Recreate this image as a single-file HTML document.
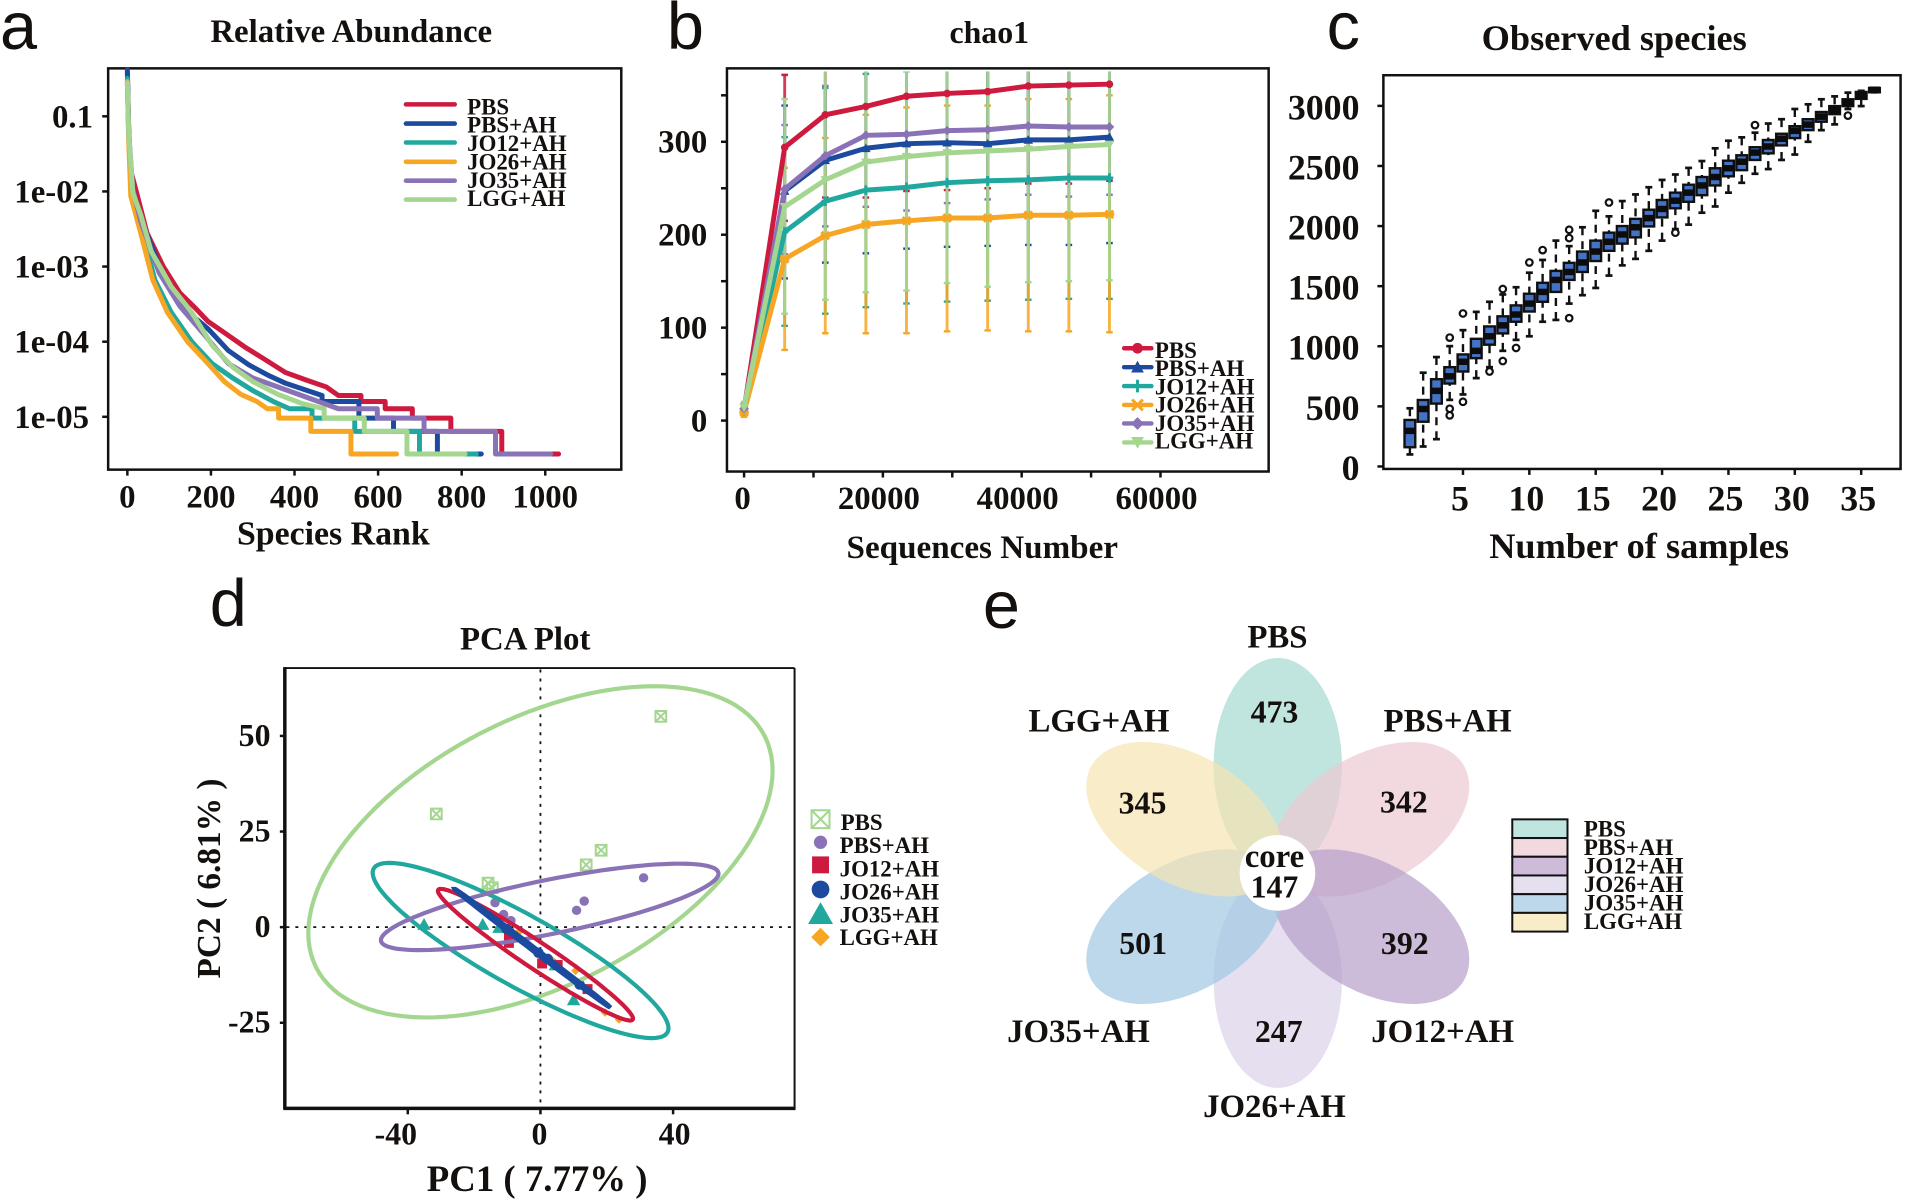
<!DOCTYPE html>
<html lang="en">
<head>
<meta charset="utf-8">
<title>Microbiome diversity figure</title>
<style>
html,body{margin:0;padding:0;background:#fff;}
svg{display:block;}
text{font-family:"Liberation Serif",serif;font-weight:700;fill:#14100e;}
.letter{font-family:"Liberation Sans",sans-serif;font-weight:400;font-size:67px;}
</style>
</head>
<body>
<svg id="figure" xmlns="http://www.w3.org/2000/svg" width="1905" height="1202" viewBox="0 0 1905 1202">
<defs>
<clipPath id="clip-b"><rect x="728" y="72" width="543" height="401"/></clipPath>
</defs>
<rect width="1905" height="1202" fill="#fff"/>

<g id="panel-a" transform="scale(0.995)">
<text class="letter" x="0" y="49">a</text>
<text x="353" y="42" font-size="33" text-anchor="middle">Relative Abundance</text>
<text x="335" y="547" font-size="34" text-anchor="middle">Species Rank</text>
<rect x="108.7" y="68.7" width="515.7" height="403.3" fill="none" stroke="#111" stroke-width="2.5"/>
</g>

<g id="panel-b" transform="translate(3.2 0) scale(0.995)">
<text class="letter" x="667" y="49">b</text>
<text x="991" y="43" font-size="32" text-anchor="middle">chao1</text>
<text x="984" y="561" font-size="33.3" text-anchor="middle">Sequences Number</text>
<rect x="727.4" y="68.7" width="544.4" height="405.2" fill="none" stroke="#111" stroke-width="2.5"/>
</g>

<g id="panel-c" transform="translate(6.3 0) scale(0.995)">
<text class="letter" x="1327" y="49">c</text>
<text x="1616" y="50" font-size="36.5" text-anchor="middle">Observed species</text>
<text x="1641" y="561" font-size="36.5" text-anchor="middle">Number of samples</text>
<rect x="1384" y="75.6" width="519.8" height="395.7" fill="none" stroke="#111" stroke-width="2.5"/>
</g>

<g id="panel-d" transform="translate(0.85 2.9) scale(0.995)">
<text class="letter" x="210" y="626">d</text>
<text x="527" y="650" font-size="33" text-anchor="middle">PCA Plot</text>
<text x="539" y="1194" font-size="37" text-anchor="middle">PC1 ( 7.77% )</text>
<text transform="translate(220 880) rotate(-90)" font-size="33.5" text-anchor="middle">PC2 ( 6.81% )</text>
<line x1="285.4" y1="668.5" x2="797.7" y2="668.5" stroke="#111" stroke-width="2"/>
<line x1="797.7" y1="668.5" x2="797.7" y2="1111" stroke="#111" stroke-width="2"/>
<line x1="285.4" y1="667.5" x2="285.4" y2="1112" stroke="#111" stroke-width="3.5"/>
<line x1="284" y1="1111" x2="798.7" y2="1111" stroke="#111" stroke-width="3.5"/>
</g>

<g id="panel-e" transform="translate(4.85 2.95) scale(0.995)">
<text class="letter" x="983" y="628">e</text>
</g>
</svg>

<script>
/* ---------- panel a: rank abundance ---------- */
const aSeriesNames = ['PBS','PBS+AH','JO12+AH','JO26+AH','JO35+AH','LGG+AH'];
const aTickRanks = [0,200,400,600,800,1000];
const aTickAbund = [0.1,1e-2,1e-3,1e-4,1e-5];
const aTickAbundLabels = ['0.1','1e-02','1e-03','1e-04','1e-05'];
const aRankPBS = [0,3,8,22,47,86,125,164,193,232,281,330,378,427,476,505,559,559,617,617,682,682,774,774,896,896,1032];
const aAbundPBS = [0.38,0.072,0.019,0.0097,0.0028,1e-3,4.5e-4,2.75e-4,1.86e-4,1.32e-4,8.5e-5,5.75e-5,3.9e-5,3.1e-5,2.5e-5,1.92e-5,1.92e-5,1.6e-5,1.6e-5,1.28e-5,1.28e-5,9.6e-6,9.6e-6,6.4e-6,6.4e-6,3.2e-6,3.2e-6];
const aRankPBSAH = [0,3,8,32,86,135,193,242,291,340,378,466,466,554,554,637,637,742,742,847];
const aAbundPBSAH = [0.42,0.07,0.0135,0.0044,7.4e-4,2.75e-4,1.48e-4,7.6e-5,4.9e-5,3.5e-5,2.8e-5,1.92e-5,1.6e-5,1.6e-5,9.6e-6,9.6e-6,6.4e-6,6.4e-6,3.2e-6,3.2e-6];
const aRankJO12 = [0,3,8,32,66,105,154,203,252,300,349,388,442,442,544,544,699,699,835];
const aAbundJO12 = [0.32,0.06,0.012,0.0035,6.6e-4,2.45e-4,1e-4,5.1e-5,3.3e-5,2.24e-5,1.6e-5,1.28e-5,1.28e-5,9.6e-6,9.6e-6,6.4e-6,6.4e-6,3.2e-6,3.2e-6];
const aRankJO26 = [0,3,8,32,61,96,144,193,232,271,310,335,362,362,439,439,535,535,644];
const aAbundJO26 = [0.29,0.05,0.0087,0.0028,6.6e-4,2.45e-4,1e-4,5.1e-5,2.95e-5,2e-5,1.6e-5,1.28e-5,1.28e-5,9.6e-6,9.6e-6,6.4e-6,6.4e-6,3.2e-6,3.2e-6];
const aRankJO35 = [0,3,13,32,76,125,183,242,300,378,457,505,598,598,710,710,881,881,1013];
const aAbundJO35 = [0.28,0.06,0.0107,0.004,8.3e-4,3e-4,1.26e-4,5.1e-5,3.3e-5,2.3e-5,1.6e-5,1.28e-5,1.28e-5,9.6e-6,9.6e-6,6.4e-6,6.4e-6,3.2e-6,3.2e-6];
const aRankLGG = [0,3,13,32,57,105,154,203,252,300,359,418,471,471,567,567,669,669,808];
const aAbundLGG = [0.28,0.06,0.0096,0.0049,0.0016,5.4e-4,2.45e-4,8.9e-5,4.6e-5,2.95e-5,2e-5,1.5e-5,1.28e-5,9.6e-6,9.6e-6,6.4e-6,6.4e-6,3.2e-6,3.2e-6];

/* ---------- panel b: chao1 rarefaction ---------- */
const bSeq = [0,5850,11700,17550,23400,29250,35100,40950,46800,52650];
const bTickX = [0,20000,40000,60000];
const bMinorX = [10000,30000,50000];
const bTickY = [0,100,200,300];
const bMinorY = [50,150,250,350];
const bMeanPBS = [12,294,329,338,349,352,354,360,361,362];
const bMeanPBSAH = [12,247,280,293,298,299,298,302,302,305];
const bMeanJO12 = [11,203,236,248,251,256,258,259,261,261];
const bMeanJO26 = [9,174,199,211,215,218,218,221,221,222];
const bMeanJO35 = [13,249,285,307,308,312,313,317,316,316];
const bMeanLGG = [14,230,259,278,284,288,290,292,295,297];
const bLowPBS = [6,215,240,240,247,248,250,255,255,258];
const bHighPBS = [18,372,425,435,450,455,455,465,465,465];
const bLowPBSAH = [6,153,170,180,185,187,188,189,189,191];
const bHighPBSAH = [18,339,360,395,405,410,410,415,415,420];
const bLowJO12 = [5,102,115,122,126,128,129,130,131,131];
const bHighJO12 = [17,305,358,373,376,385,388,390,392,392];
const bLowJO26 = [4,76,94,94,94,96,97,96,96,95];
const bHighJO26 = [14,272,304,329,337,339,339,346,346,350];
const bLowJO35 = [7,179,209,230,226,234,238,243,241,243];
const bHighJO35 = [19,318,360,385,390,390,390,392,392,392];
const bLowLGG = [8,115,130,138,140,148,144,149,150,151];
const bHighLGG = [20,346,388,418,428,428,436,436,440,443];

/* ---------- panel c: observed species box plots ---------- */
const cSamples = [1,2,3,4,5,6,7,8,9,10,11,12,13,14,15,16,17,18,19,20,21,22,23,24,25,26,27,28,29,30,31,32,33,34,35,36];
const cQ1 = [160,372,523,690,790,901,1013,1107,1204,1289,1370,1452,1552,1618,1709,1794,1854,1906,1997,2072,2148,2202,2257,2338,2414,2465,2550,2605,2671,2732,2798,2868,2931,2998,3058,3113];
const cMedian = [296,478,629,750,871,962,1083,1174,1264,1355,1452,1552,1618,1697,1788,1869,1930,1990,2066,2142,2211,2278,2338,2408,2481,2535,2611,2662,2726,2792,2844,2910,2967,3025,3086,3134];
const cQ3 = [387,553,726,826,932,1062,1165,1249,1340,1437,1528,1627,1694,1788,1879,1945,2000,2060,2136,2217,2278,2344,2408,2481,2544,2589,2656,2716,2768,2831,2889,2949,2998,3055,3116,3149];
const cLow = [100,166,227,554,599,735,826,962,1053,1083,1204,1219,1355,1425,1485,1588,1673,1727,1794,1879,1975,2012,2111,2163,2278,2360,2435,2474,2550,2595,2701,2798,2846,2974,2998,3113];
const cHigh = [484,780,910,1001,1134,1286,1370,1431,1491,1612,1718,1879,1833,1990,2127,2081,2208,2263,2323,2384,2429,2484,2541,2647,2710,2738,2777,2853,2889,2974,3013,3055,3079,3110,3125,3149];
const cOutlierSample = [4,4,4,5,5,7,8,8,9,10,11,13,13,13,16,21,27,34];
const cOutlierValue = [1072,480,425,1273,538,790,1476,877,986,1697,1800,1900,1969,1234,2196,1945,2840,2919];
const cTickX = [5,10,15,20,25,30,35];
const cTickY = [0,500,1000,1500,2000,2500,3000];

/* ---------- panel d: PCA ---------- */
const dGroupNames = ['PBS','PBS+AH','JO12+AH','JO26+AH','JO35+AH','LGG+AH'];
const dTickX = [-40,0,40];
const dTickY = [-25,0,25,50];
const dPC1PBS = [36.3,-31.4,18.3,13.8,-15.8,-14.5];
const dPC2PBS = [55.1,29.6,20.1,16.3,11.5,10.3];
const dPC1PBSAH = [31.1,13.2,10.9,-13.7,-11.1,-8.9];
const dPC2PBSAH = [12.9,6.8,4.4,6.4,3.3,1.7];
const dPC1JO12 = [-9.5,-9.5,0.5,5.2,14.2];
const dPC2JO12 = [-1.6,-4.1,-9.5,-9.9,-16.2];
const dPC1JO26 = [-10.2,-0.6,2.2,11.8];
const dPC2JO26 = [-0.5,-6.7,-8.3,-15];
const dPC1JO35 = [-35.1,-17.4,-12.5,4.5,10];
const dPC2JO35 = [0.7,0.7,-0.1,-9.9,-19];
const dPC1LGG = [-6.6,3.7,10.6,19.5,23.7];
const dPC2LGG = [-1.3,-8.8,-11.4,-22.3,-24.1];
/* confidence ellipses: centre, half-extent on each axis, correlation */
const dEllipseNames = ['pbs','jo35','pbs-ah','jo12','jo26'];
const dEllipseCx = [0,-6,2.8,-1.5,-2.6];
const dEllipseCy = [19.7,-6.1,5.3,-7.2,-5.4];
const dEllipseRx = [70,44.6,50.9,29.4,23.2];
const dEllipseRy = [43.3,22.9,11.3,17.2,15.3];
const dEllipseCorr = [0.49,-0.887,0.77,-0.97,-0.9995];

/* ---------- panel e: flower plot ---------- */
const eGroupNames = ['PBS','PBS+AH','JO12+AH','JO26+AH','JO35+AH','LGG+AH'];
const eUniqueCounts = [473,342,392,247,501,345];
const eCoreCount = 147;

const NS = 'http://www.w3.org/2000/svg';
const cRed='#cd1a3e', cBlue='#1c4a9f', cTeal='#21a89e', cOrange='#f6a623', cPurple='#8a72b6', cGreen='#a4d690';

function make(parent, tag, attrs, txt){
  const el = document.createElementNS(NS, tag);
  for (const k in attrs) el.setAttribute(k, attrs[k]);
  if (txt !== undefined) el.textContent = txt;
  parent.appendChild(el);
  return el;
}
function slug(s){ return String(s).toLowerCase().replace(/\+/g,'-').replace(/[^a-z0-9-]/g,''); }

/* axis tick + label helpers */
function xAxis(group, values, labels, xf, yBase, tickLen, labelY, size, prefix, dx){
  values.forEach(function(v,i){
    const t = make(group,'line',{x1:xf(v),x2:xf(v),y1:yBase,y2:yBase+tickLen,stroke:'#111','stroke-width':2.5});
    
    
    const l = make(group,'text',{x:xf(v)+dx(v),y:labelY,'font-size':size,'text-anchor':'middle'},labels[i]);
    
    
  });
}
function yAxis(group, values, labels, yf, xBase, tickLen, labelX, size, prefix, dy, dxf){
  values.forEach(function(v,i){
    const t = make(group,'line',{x1:xBase-tickLen,x2:xBase,y1:yf(v),y2:yf(v),stroke:'#111','stroke-width':2.5});
    
    
    const l = make(group,'text',{x:labelX+dxf(v),y:yf(v)+dy,'font-size':size,'text-anchor':'end'},labels[i]);
    
    
  });
}
function minorTicksX(group, values, xf, yBase, len, prefix){
  values.forEach(function(v){
    const t = make(group,'line',{x1:xf(v),x2:xf(v),y1:yBase,y2:yBase+len,stroke:'#111','stroke-width':2.5});
    
    
  });
}
function minorTicksY(group, values, yf, xBase, len, prefix){
  values.forEach(function(v){
    const t = make(group,'line',{x1:xBase-len,x2:xBase,y1:yf(v),y2:yf(v),stroke:'#111','stroke-width':2.5});
    
    
  });
}

/* ====== PANEL A ====== */
(function(){
  const g = document.getElementById('panel-a');
  const x = function(r){ return 128 + 0.42*r; };
  const y = function(a){ return 116.9 + (-1 - Math.log10(a))*75.5; };
  xAxis(g,aTickRanks,aTickRanks.map(String),x,472,6,510,33,'abundance',function(){return 0;});
  yAxis(g,aTickAbund,aTickAbundLabels,y,108.7,6,89.5,33,'abundance',11,function(v){return v===0.1?4:0;});
  const ranks=[aRankPBS,aRankPBSAH,aRankJO12,aRankJO26,aRankJO35,aRankLGG];
  const abund=[aAbundPBS,aAbundPBSAH,aAbundJO12,aAbundJO26,aAbundJO35,aAbundLGG];
  const cols=[cRed,cBlue,cTeal,cOrange,cPurple,cGreen];
  ranks.forEach(function(rs,s){
    const pts = rs.map(function(r,i){ return x(r).toFixed(1)+','+y(abund[s][i]).toFixed(1); }).join(' ');
    const line = make(g,'polyline',{points:pts,fill:'none',stroke:cols[s],'stroke-width':5,'stroke-linejoin':'round','stroke-linecap':'round'});
    
    
  });
  const ly=[104.9,124.2,143.2,162.6,181.6,200.6], ty=[115,133.4,151.6,170.6,188.9,207.2];
  aSeriesNames.forEach(function(n,i){
    const sw = make(g,'line',{x1:408,x2:457,y1:ly[i],y2:ly[i],stroke:cols[i],'stroke-width':4.6,'stroke-linecap':'round'});
    
    
    const t = make(g,'text',{x:469.5,y:ty[i],'font-size':23},n);
    
    
  });
})();

/* ====== PANEL B ====== */
function bMarker(g, kind, cx, cy, s, col){
  if(kind===0) return make(g,'circle',{cx:cx,cy:cy,r:s,fill:col});
  if(kind===1) return make(g,'polygon',{points:[cx,cy-s-1,cx+s+1,cy+s,cx-s-1,cy+s].join(','),fill:col});
  if(kind===2) return make(g,'path',{d:'M'+(cx-s)+' '+cy+'H'+(cx+s)+'M'+cx+' '+(cy-s-1)+'V'+(cy+s+1),stroke:col,'stroke-width':3,fill:'none'});
  if(kind===3) return make(g,'path',{d:'M'+(cx-s)+' '+(cy-s)+'L'+(cx+s)+' '+(cy+s)+'M'+(cx+s)+' '+(cy-s)+'L'+(cx-s)+' '+(cy+s)+'M'+(cx-s-1)+' '+cy+'H'+(cx+s+1),stroke:col,'stroke-width':3,fill:'none'});
  if(kind===4) return make(g,'polygon',{points:[cx,cy-s-1,cx+s+1,cy,cx,cy+s+1,cx-s-1,cy].join(','),fill:col});
  return make(g,'polygon',{points:[cx-s-1,cy-s,cx+s+1,cy-s,cx,cy+s+1].join(','),fill:col});
}
(function(){
  const g = document.getElementById('panel-b');
  const x = function(v){ return 744.6 + v*0.006975; };
  const y = function(v){ return 422.7 - v*0.934; };
  xAxis(g,bTickX,bTickX.map(String),x,473.9,6,511.5,33,'chao1',function(v){return v===0?-1.5:-4;});
  minorTicksX(g,bMinorX,x,473.9,6,'chao1');
  yAxis(g,bTickY,bTickY.map(String),y,727.4,6,707.7,33,'chao1',11,function(){return 0;});
  minorTicksY(g,bMinorY,y,727.4,6,'chao1');
  const means=[bMeanPBS,bMeanPBSAH,bMeanJO12,bMeanJO26,bMeanJO35,bMeanLGG];
  const lows=[bLowPBS,bLowPBSAH,bLowJO12,bLowJO26,bLowJO35,bLowLGG];
  const highs=[bHighPBS,bHighPBSAH,bHighJO12,bHighJO26,bHighJO35,bHighLGG];
  const cols=[cRed,cBlue,cTeal,cOrange,cPurple,cGreen];
  const clip = make(g,'g',{'clip-path':'url(#clip-b)'});
  
  
  means.forEach(function(m,s){
    bSeq.forEach(function(q,i){
      const op = s===5 ? 0.9 : 0.85;
      const bar = make(clip,'line',{x1:x(q),x2:x(q),y1:y(highs[s][i]),y2:y(lows[s][i]),stroke:cols[s],'stroke-width':2.9,opacity:op});
      
      
      const capHi = make(clip,'line',{x1:x(q)-3.3,x2:x(q)+3.3,y1:y(highs[s][i]),y2:y(highs[s][i]),stroke:cols[s],'stroke-width':2.4});
      
      
      const capLo = make(clip,'line',{x1:x(q)-3.3,x2:x(q)+3.3,y1:y(lows[s][i]),y2:y(lows[s][i]),stroke:cols[s],'stroke-width':2.4});
      
      
    });
  });
  /* top of the stack: LGG error bars pass over earlier series */
  means.forEach(function(m,s){
    const pts = bSeq.map(function(q,i){ return x(q).toFixed(1)+','+y(m[i]).toFixed(1); }).join(' ');
    const line = make(clip,'polyline',{points:pts,fill:'none',stroke:cols[s],'stroke-width':5,'stroke-linejoin':'round'});
    
    
    bSeq.forEach(function(q,i){
      const mk = bMarker(clip,s,x(q),y(m[i]),3.8,cols[s]);
      
      
    });
  });
  const ly=[350,369,388,407,425.6,444.6], ty=[360,378,396.4,414.7,433,451];
  aSeriesNames.forEach(function(n,i){
    const sw = make(g,'line',{x1:1126.5,x2:1154,y1:ly[i],y2:ly[i],stroke:cols[i],'stroke-width':4.4,'stroke-linecap':'round'});
    
    
    const mk = bMarker(g,i,1140,ly[i],5.4,cols[i]);
    
    
    const t = make(g,'text',{x:1157.5,y:ty[i],'font-size':23},n);
    
    
  });
})();

/* ====== PANEL C ====== */
(function(){
  const g = document.getElementById('panel-c');
  const x = function(n){ return 1397.3 + 13.34*n; };
  const y = function(v){ return 468.8 - 0.1208*v; };
  xAxis(g,cTickX,cTickX.map(String),x,471.3,6,513.3,36,'species',function(){return -3;});
  yAxis(g,cTickY,cTickY.map(String),y,1384,6,1360,36,'species',13.5,function(){return 0;});
  const w = 5.4;
  cSamples.forEach(function(n,i){
    const cx = x(n);
    const hi = make(g,'line',{x1:cx,x2:cx,y1:y(cHigh[i]),y2:y(cQ3[i]),stroke:'#111','stroke-width':2.4,'stroke-dasharray':'8 6'});
    
    
    const lo = make(g,'line',{x1:cx,x2:cx,y1:y(cLow[i]),y2:y(cQ1[i]),stroke:'#111','stroke-width':2.4,'stroke-dasharray':'8 6'});
    
    
    const capH = make(g,'line',{x1:cx-3.5,x2:cx+3.5,y1:y(cHigh[i]),y2:y(cHigh[i]),stroke:'#111','stroke-width':2.7});
    
    
    const capL = make(g,'line',{x1:cx-3.5,x2:cx+3.5,y1:y(cLow[i]),y2:y(cLow[i]),stroke:'#111','stroke-width':2.7});
    
    
    const box = make(g,'rect',{x:cx-w,y:y(cQ3[i]),width:2*w,height:y(cQ1[i])-y(cQ3[i]),fill:'#4472c4',stroke:'#101010','stroke-width':2.4});
    
    
    const med = make(g,'line',{x1:cx-w,x2:cx+w,y1:y(cMedian[i]),y2:y(cMedian[i]),stroke:'#0c0c0c','stroke-width':6.5});
    
    
  });
  cOutlierSample.forEach(function(n,i){
    const o = make(g,'circle',{cx:x(n),cy:y(cOutlierValue[i]),r:3.3,fill:'#fff',stroke:'#111','stroke-width':2.2});
    
    
  });
})();

/* ====== PANEL D ====== */
function dMarker(g, group, cx, cy, s){
  if(group===0){
    return make(g,'path',{d:'M'+(cx-s)+' '+(cy-s)+'H'+(cx+s)+'V'+(cy+s)+'H'+(cx-s)+'ZM'+(cx-s)+' '+(cy-s)+'L'+(cx+s)+' '+(cy+s)+'M'+(cx+s)+' '+(cy-s)+'L'+(cx-s)+' '+(cy+s),fill:'none',stroke:cGreen,'stroke-width':2});
  }
  if(group===1) return make(g,'circle',{cx:cx,cy:cy,r:s*0.95,fill:cPurple});
  if(group===2) return make(g,'rect',{x:cx-s,y:cy-s,width:2*s,height:2*s,fill:cRed});
  if(group===3) return make(g,'circle',{cx:cx,cy:cy,r:s*1.05,fill:cBlue});
  if(group===4) return make(g,'polygon',{points:[cx,cy-s*1.2,cx+s*1.25,cy+s,cx-s*1.25,cy+s].join(','),fill:cTeal});
  return make(g,'polygon',{points:[cx,cy-s*1.1,cx+s*1.1,cy,cx,cy+s*1.1,cx-s*1.1,cy].join(','),fill:cOrange});
}
(function(){
  const g = document.getElementById('panel-d');
  const x = function(v){ return 542.3 + 3.333*v; };
  const y = function(v){ return 928.9 - 3.844*v; };
  xAxis(g,dTickX,dTickX.map(String),x,1112,5,1147.4,32,'pca',function(v){return v<0?-12:(v>0?1.5:-1);});
  yAxis(g,dTickY,dTickY.map(String),y,285.4,5,271,32,'pca',10,function(){return 0;});
  const h = make(g,'line',{x1:287,x2:796,y1:y(0),y2:y(0),stroke:'#111','stroke-width':1.8,'stroke-dasharray':'3 6'});
  
  
  const v = make(g,'line',{x1:x(0),x2:x(0),y1:670,y2:1109,stroke:'#111','stroke-width':1.8,'stroke-dasharray':'3 6'});
  
  
  const pc1=[dPC1PBS,dPC1PBSAH,dPC1JO12,dPC1JO26,dPC1JO35,dPC1LGG];
  const pc2=[dPC2PBS,dPC2PBSAH,dPC2JO12,dPC2JO26,dPC2JO35,dPC2LGG];
  const sizes=[5.4,5,5,5,5.4,4];
  [5,0,1,4,2,3].forEach(function(s){
    pc1[s].forEach(function(p,i){
      const m = dMarker(g,s,x(p),y(pc2[s][i]),sizes[s]);
      
      
    });
  });
  const eCols=[cGreen,cTeal,cPurple,cRed,cBlue];
  const eWidths=[4.2,4.2,4.2,4.2,5];
  dEllipseNames.forEach(function(name,e){
    const r = dEllipseCorr[e], q = Math.sqrt(1-r*r);
    const pts=[];
    for(let k=0;k<=120;k++){
      const t = k/120*2*Math.PI;
      const px = dEllipseCx[e] + dEllipseRx[e]*Math.cos(t);
      const py = dEllipseCy[e] + dEllipseRy[e]*(r*Math.cos(t) + q*Math.sin(t));
      pts.push(x(px).toFixed(1)+','+y(py).toFixed(1));
    }
    const el = make(g,'polygon',{points:pts.join(' '),fill:'none',stroke:eCols[e],'stroke-width':eWidths[e]});
    
    
  });
  const ly=[820.4,843.6,866.3,891,915.7,938.9], ty=[831.2,854.3,877.9,901,924,946.8], lsize=[9,7,8.5,8.5,10,8.5], tx=[844,843,843,843,843,843];
  dGroupNames.forEach(function(n,i){
    const m = dMarker(g,i,823.8,ly[i],lsize[i]);
    
    
    const t = make(g,'text',{x:tx[i],y:ty[i],'font-size':23},n);
    
    
  });
})();

/* ====== PANEL E ====== */
(function(){
  const g = document.getElementById('panel-e');
  const cx=1279.3, cy=874.4, rx=64.5, ry=108;
  const fills=['#a5d8d0','#edc9d3','#b79ec9','#dad1ea','#a1c7e1','#f5e4b2'];
  const shown=['#c0e4df','#f2d9e0','#cdbbd9','#e5dff0','#bdd8ea','#f8ecc9'];
  [0,3,1,2,4,5].forEach(function(i){
    const p = make(g,'ellipse',{cx:cx,cy:cy-ry,rx:rx,ry:ry,fill:fills[i],'fill-opacity':0.7,transform:'rotate('+(i*60)+' '+cx+' '+cy+')'});
    
    
  });
  const core = make(g,'circle',{cx:1279,cy:874.4,r:38,fill:'#fff'});
  
  
  const c1 = make(g,'text',{x:1276,y:868.5,'font-size':33,'text-anchor':'middle'},'core');
  
  
  const c2 = make(g,'text',{x:1276,y:899,'font-size':32,'text-anchor':'middle'},String(eCoreCount));
  
  
  const nx=[1276,1406,1407,1280.3,1144,1143.4], ny=[723.4,813.6,955.6,1044.3,955.6,814.4];
  const lx=[1279,1450,1445,1276,1079,1099.6], lyy=[647.7,732,1044.3,1119.6,1044.3,732];
  eGroupNames.forEach(function(n,i){
    const t = make(g,'text',{x:nx[i],y:ny[i],'font-size':32,'text-anchor':'middle'},String(eUniqueCounts[i]));
    
    
    const l = make(g,'text',{x:lx[i],y:lyy[i],'font-size':33,'text-anchor':'middle'},n);
    
    
    const sw = make(g,'rect',{x:1515,y:820.5+i*18.8,width:55.5,height:18.8,fill:shown[i],stroke:'#111','stroke-width':2});
    
    
    const lt = make(g,'text',{x:1587,y:838+i*18.5,'font-size':23},n);
    
    
  });
})();
</script>
</body>
</html>
